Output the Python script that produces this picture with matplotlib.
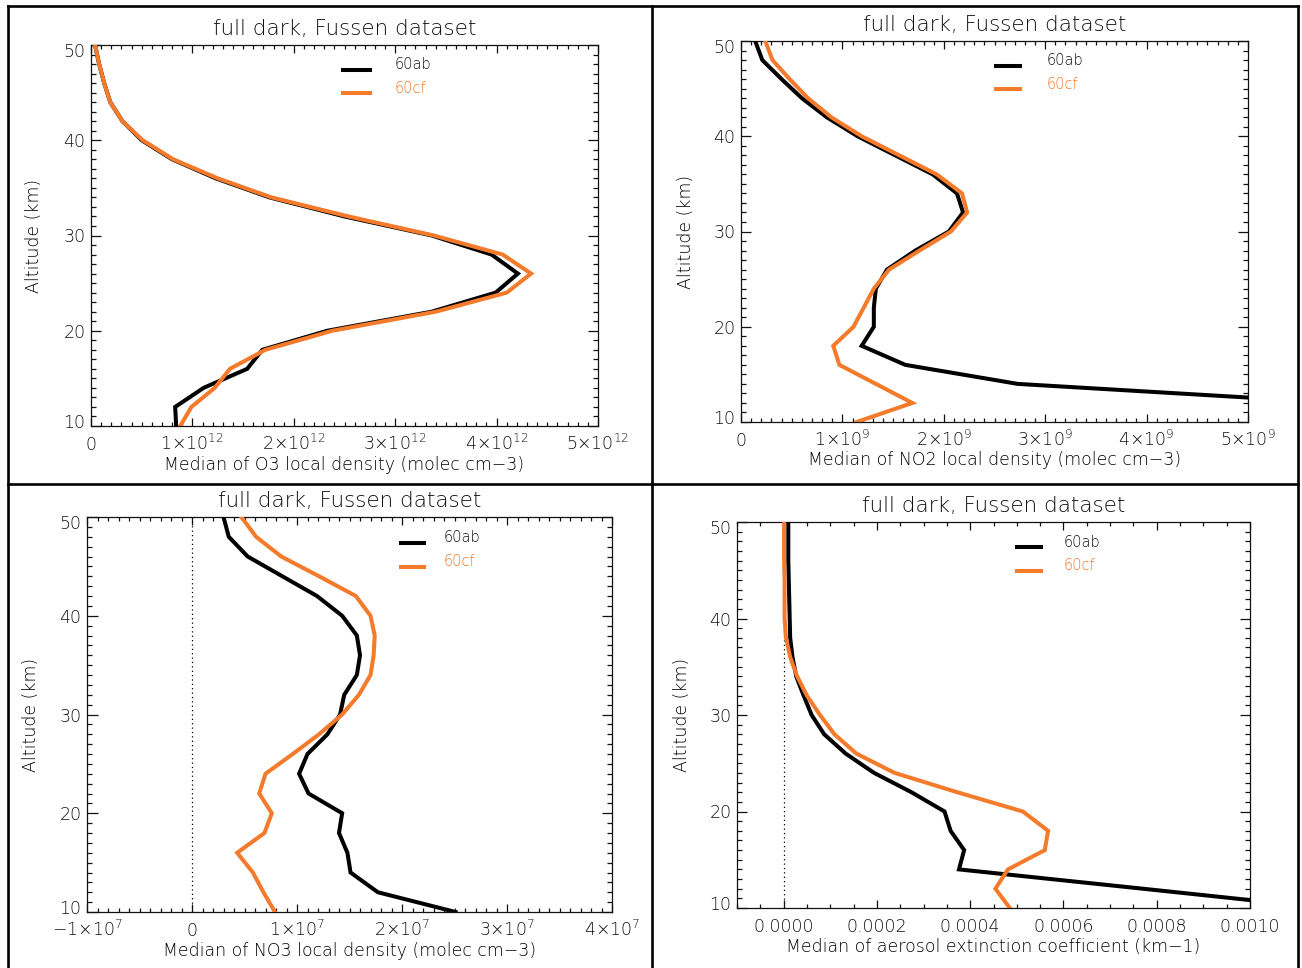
import numpy as np
import matplotlib
matplotlib.use("Agg")
import matplotlib.pyplot as plt
from matplotlib.lines import Line2D
from matplotlib.ticker import MultipleLocator
from matplotlib.transforms import ScaledTranslation

# ── data ─────────────────────────────────────────────────────────────────────
ALT = [10, 12, 14, 16, 18, 20, 22, 24, 26, 28, 30,
       32, 34, 36, 38, 40, 42, 44, 46, 48, 50]

O3_60AB = np.array([0.84, 0.83, 1.11, 1.54, 1.69, 2.33, 3.36, 3.99, 4.21, 3.95, 3.36,
                    2.50, 1.76, 1.23, 0.80, 0.50, 0.31, 0.19, 0.13, 0.08, 0.04]) * 1e12
O3_60CF = np.array([0.88, 0.99, 1.22, 1.37, 1.72, 2.38, 3.40, 4.10, 4.34, 4.06, 3.38,
                    2.54, 1.78, 1.25, 0.81, 0.51, 0.31, 0.19, 0.13, 0.08, 0.04]) * 1e12

NO2_60AB = np.array([11.0, 5.9, 2.73, 1.62, 1.19, 1.31, 1.31, 1.33, 1.44, 1.72, 2.05,
                     2.19, 2.13, 1.89, 1.52, 1.15, 0.845, 0.60, 0.40, 0.21, 0.14]) * 1e9
NO2_60CF = np.array([1.14, 1.69, 1.33, 0.97, 0.91, 1.11, 1.21, 1.31, 1.46, 1.76, 2.07,
                     2.23, 2.18, 1.93, 1.56, 1.19, 0.89, 0.66, 0.48, 0.31, 0.24]) * 1e9

NO3_60AB = np.array([2.51, 1.77, 1.51, 1.48, 1.40, 1.43, 1.11, 1.02, 1.10, 1.29, 1.41,
                     1.45, 1.57, 1.60, 1.57, 1.43, 1.19, 0.86, 0.53, 0.35, 0.30]) * 1e7
NO3_60CF = np.array([0.79, 0.68, 0.58, 0.43, 0.69, 0.76, 0.64, 0.70, 0.96, 1.21, 1.43,
                     1.59, 1.70, 1.73, 1.74, 1.70, 1.56, 1.21, 0.85, 0.61, 0.47]) * 1e7

AER_60AB = np.array([11.6, 7.7, 3.76, 3.87, 3.58, 3.45, 2.74, 1.94, 1.33, 0.87, 0.60,
                     0.43, 0.27, 0.19, 0.14, 0.13, 0.12, 0.11, 0.10, 0.10, 0.10]) * 1e-4
AER_60CF = np.array([4.85, 4.54, 4.81, 5.60, 5.67, 5.13, 3.72, 2.38, 1.56, 1.09, 0.78,
                     0.50, 0.29, 0.14, 0.05, 0.02, 0.02, 0.02, 0.01, 0.01, 0.01]) * 1e-4

TITLE = "full dark, Fussen dataset"
SERIES = ["60ab", "60cf"]

O3_TICKS  = [0, 1e12, 2e12, 3e12, 4e12, 5e12]
O3_LABELS = ["0", "1×10$^{12}$", "2×10$^{12}$", "3×10$^{12}$", "4×10$^{12}$", "5×10$^{12}$"]
NO2_TICKS  = [0, 1e9, 2e9, 3e9, 4e9, 5e9]
NO2_LABELS = ["0", "1×10$^{9}$", "2×10$^{9}$", "3×10$^{9}$", "4×10$^{9}$", "5×10$^{9}$"]
NO3_TICKS  = [-1e7, 0, 1e7, 2e7, 3e7, 4e7]
NO3_LABELS = ["\u22121×10$^{7}$", "0", "1×10$^{7}$", "2×10$^{7}$", "3×10$^{7}$", "4×10$^{7}$"]
AER_TICKS  = [0, 0.0002, 0.0004, 0.0006, 0.0008, 0.0010]
AER_LABELS = ["0.0000", "0.0002", "0.0004", "0.0006", "0.0008", "0.0010"]
ALT_TICKS = [10, 20, 30, 40, 50]

# ── styles ───────────────────────────────────────────────────────────────────
ORANGE = "#F47A2C"
TXT = "#111111"
W, H = 1302, 968
FW = 200  # thin IDL-like lettering (falls back to regular if not installed)

plt.rcParams["font.family"] = ["DejaVu Sans"]
plt.rcParams["font.weight"] = FW
plt.rcParams["mathtext.default"] = "regular"
plt.rcParams["text.color"] = TXT
plt.rcParams["xtick.color"] = TXT
plt.rcParams["ytick.color"] = TXT

# pixel boxes (left, top, right, bottom) and legend placement in axes fraction
PANELS = [
    dict(box=(91, 45, 598, 426), x=(O3_60AB, O3_60CF), xlim=(0, 5e12),
         ticks=O3_TICKS, labels=O3_LABELS, minor=1e11, zero=False,
         xlabel="Median of O3 local density (molec cm\u22123)",
         leg=(0.497, 0.550, 0.598), ylab_x=-0.094),
    dict(box=(741, 41, 1248, 422), x=(NO2_60AB, NO2_60CF), xlim=(0, 5e9),
         ticks=NO2_TICKS, labels=NO2_LABELS, minor=1e8, zero=False,
         xlabel="Median of NO2 local density (molec cm\u22123)",
         leg=(0.502, 0.551, 0.602), ylab_x=-0.091),
    dict(box=(87, 517, 612, 912), x=(NO3_60AB, NO3_60CF), xlim=(-1e7, 4e7),
         ticks=NO3_TICKS, labels=NO3_LABELS, minor=1e6, zero=True,
         xlabel="Median of NO3 local density (molec cm\u22123)",
         leg=(0.599, 0.642, 0.680), ylab_x=-0.089),
    dict(box=(737, 522, 1250, 908), x=(AER_60AB, AER_60CF), xlim=(-0.0001, 0.0010),
         ticks=AER_TICKS, labels=AER_LABELS, minor=0.00005, zero=True,
         xlabel="Median of aerosol extinction coefficient (km\u22121)",
         leg=(0.546, 0.593, 0.637), ylab_x=-0.089),
]

fig = plt.figure(figsize=(W / 100, H / 100), dpi=100)
fig.patch.set_facecolor("white")

for p in PANELS:
    l, t, r, b = p["box"]
    wpx, hpx = r - l, b - t
    ax = fig.add_axes([l / W, 1 - b / H, wpx / W, hpx / H])

    if p["zero"]:
        ax.axvline(0, color="black", lw=0.9, ls=(0, (1, 2.5)), zorder=1)

    ax.plot(p["x"][0], ALT, color="black", lw=2.9, solid_joinstyle="miter", zorder=3)
    ax.plot(p["x"][1], ALT, color=ORANGE, lw=2.9, solid_joinstyle="miter", zorder=3)

    ax.set_xlim(*p["xlim"])
    ax.set_ylim(10, 50)
    ax.set_xticks(p["ticks"], p["labels"], va="baseline", fontweight=FW)
    ax.xaxis.set_minor_locator(MultipleLocator(p["minor"]))
    ax.set_yticks(ALT_TICKS, [str(a) for a in ALT_TICKS], fontweight=FW)
    ax.yaxis.set_minor_locator(MultipleLocator(1))

    xl = 0.02 * hpx * 0.72
    yl = 0.02 * wpx * 0.72
    ax.tick_params(axis="x", which="major", direction="in", top=True, bottom=True,
                   length=xl, width=0.9, pad=17.5, labelsize=12.5)
    ax.tick_params(axis="x", which="minor", direction="in", top=True, bottom=True,
                   length=xl / 2, width=0.9)
    ax.tick_params(axis="y", which="major", direction="in", left=True, right=True,
                   length=yl, width=0.9, pad=4, labelsize=12.5)
    ax.tick_params(axis="y", which="minor", direction="in", left=True, right=True,
                   length=yl / 2, width=0.9)
    for s in ax.spines.values():
        s.set_linewidth(0.9)
        s.set_color("#111111")

    # end labels sit a little inside the axis range, as IDL draws them
    ylabels = ax.get_yticklabels()
    ylabels[0].set_transform(ylabels[0].get_transform()
                             + ScaledTranslation(0, 5 / 100, fig.dpi_scale_trans))
    ylabels[-1].set_transform(ylabels[-1].get_transform()
                              + ScaledTranslation(0, -5 / 100, fig.dpi_scale_trans))

    ax.set_title(TITLE, fontsize=15.5, pad=7, color=TXT, fontweight=FW)
    ax.set_ylabel("Altitude (km)", fontsize=12.5, fontweight=FW)
    ax.yaxis.set_label_coords(p["ylab_x"], 0.5)
    ax.set_xlabel(p["xlabel"], fontsize=12.5, va="center", fontweight=FW)
    ax.xaxis.set_label_coords(0.5, -38.5 / hpx)

    # IDL-style legend: short line plus label
    x0, x1, xt = p["leg"]
    ax.plot([x0, x1], [0.934, 0.934], transform=ax.transAxes, color="black", lw=2.9)
    ax.plot([x0, x1], [0.874, 0.874], transform=ax.transAxes, color=ORANGE, lw=2.9)
    ax.text(xt, 0.948, SERIES[0], transform=ax.transAxes, fontsize=10.5,
            color=TXT, va="center", ha="left", fontweight=FW)
    ax.text(xt, 0.887, SERIES[1], transform=ax.transAxes, fontsize=10.5,
            color=ORANGE, va="center", ha="left", fontweight=FW)

# panel frame lines
def fline(xs, ys):
    fig.add_artist(Line2D([x / W for x in xs], [1 - y / H for y in ys],
                          transform=fig.transFigure, color="black", lw=1.9))

fline([7.5, 1298], [6, 6])
fline([7.5, 7.5], [6, 968])
fline([1298, 1298], [6, 968])
fline([652, 652], [6, 968])
fline([7.5, 1298], [483.5, 483.5])

fig.savefig("out.png", dpi=100)
